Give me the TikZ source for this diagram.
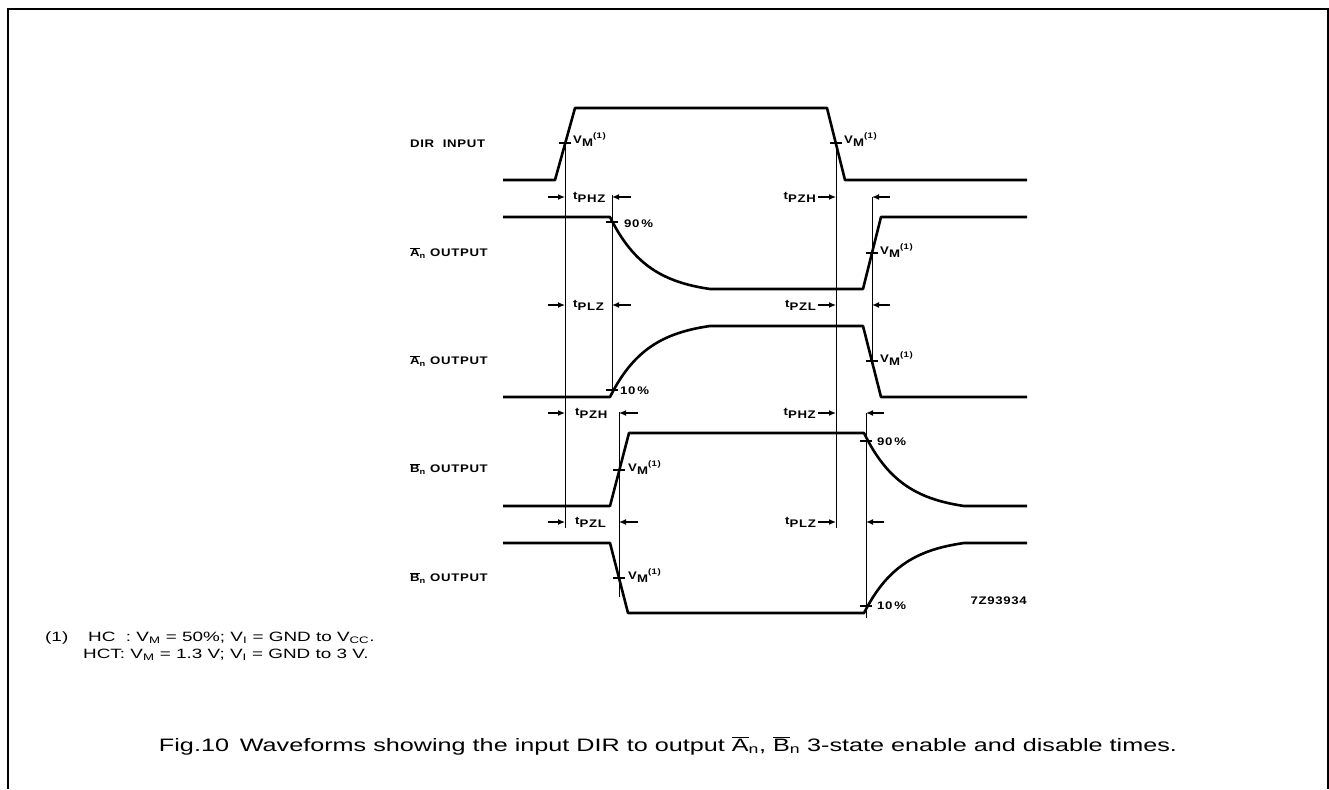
\documentclass[tikz,border=0pt]{standalone}
\usepackage{fontspec}
\setmainfont{Liberation Sans}
\newfontfamily\wavefont[LetterSpace=6, FakeStretch=1.2]{Liberation Sans}
\newfontfamily\capfont[FakeStretch=1.4]{Liberation Sans}
\usetikzlibrary{arrows.meta, positioning}

\newcommand{\tsub}[1]{t\raisebox{-3pt}{#1}}
\newcommand{\vmref}{V\raisebox{-3pt}{M}\raisebox{5pt}{\fontsize{8}{8}\selectfont(1)}}
\newcommand{\barA}{$\overline{\mbox{A}}$}
\newcommand{\barB}{$\overline{\mbox{B}}$}

\begin{document}
\begin{tikzpicture}[
    x=1pt, y=-1pt,
    wave/.style={line width=2.6pt, line join=round},
    guide/.style={line width=1pt},
    tickmark/.style={line width=1.6pt},
    dimarrow/.style={-{Latex[length=7pt,width=6pt]}, line width=1.3pt},
    sig/.style={font=\wavefont\fontsize{11}{13}\selectfont\bfseries, anchor=west, inner sep=0pt},
    tlbl/.style={font=\wavefont\fontsize{11}{13}\selectfont\bfseries, inner sep=0pt},
    note/.style={font=\capfont\fontsize{13.5}{16}\selectfont, anchor=west, inner sep=0pt},
]
\useasboundingbox (0,0) rectangle (1329,789);

%% Rahmen
\draw[line width=1.8pt] (8,789) -- (8,9) -- (1328,9) -- (1328,789);

%% Signalnamen
\node[sig] (lDIR) at (410,144) {DIR\ \ INPUT};
\node[sig] (lA1) at (410,253) {\barA\textsubscript{n} OUTPUT};
\node[sig] (lA2) at (410,361) {\barA\textsubscript{n} OUTPUT};
\node[sig] (lB1) at (410,469) {\barB\textsubscript{n} OUTPUT};
\node[sig] (lB2) at (410,578) {\barB\textsubscript{n} OUTPUT};

%% Kurven
\draw[wave] (503,180) -- (555,180) -- (575,108) -- (827,108) -- (845,180) -- (1027,180);
\draw[wave] (503,217) -- (610,217)
    -- plot[domain=0:100, samples=45] ({610+\x},{217+72*(1-exp(-\x/38))/0.928})
    -- (863,289) -- (881,217) -- (1027,217);
\draw[wave] (503,397) -- (610,397)
    -- plot[domain=0:100, samples=45] ({610+\x},{397-71*(1-exp(-\x/38))/0.928})
    -- (863,326) -- (881,397) -- (1027,397);
\draw[wave] (503,506) -- (610,506) -- (629,433) -- (864,433)
    -- plot[domain=0:100, samples=45] ({864+\x},{433+73*(1-exp(-\x/38))/0.928})
    -- (1027,506);
\draw[wave] (503,543) -- (610,543) -- (628,613) -- (864,613)
    -- plot[domain=0:100, samples=45] ({864+\x},{613-70*(1-exp(-\x/38))/0.928})
    -- (1027,543);

%% Hilfslinien
\coordinate (g1) at (565,143);
\coordinate (g2) at (836,143);
\coordinate (g3) at (612,195);
\coordinate (g4) at (872,197);
\coordinate (g5) at (619,412);
\coordinate (g6) at (866,413);
\draw[guide] (g1) -- (565,528);
\draw[guide] (g2) -- (836,528);
\draw[guide] (g3) -- (612,395);
\draw[guide] (g4) -- (872,362);
\draw[guide] (g5) -- (619,597);
\draw[guide] (g6) -- (866,618);

%% Messpunkte
\draw[tickmark] (559,143) -- (571,143);
\draw[tickmark] (830,143) -- (842,143);
\draw[tickmark] (606,222) -- (618,222);
\draw[tickmark] (866,253) -- (878,253);
\draw[tickmark] (606,390) -- (618,390);
\draw[tickmark] (866,361) -- (878,361);
\draw[tickmark] (613,470) -- (625,470);
\draw[tickmark] (860,441) -- (872,441);
\draw[tickmark] (613,578) -- (625,578);
\draw[tickmark] (860,606) -- (872,606);

\node[sig] (v1) at (573,140) {\vmref};
\node[sig] (v2) at (844,140) {\vmref};
\node[sig] (p1) at (624,224) {90\,\%};
\node[sig] (v3) at (880,251) {\vmref};
\node[sig] (p2) at (620,391) {10\,\%};
\node[sig] (v4) at (880,359) {\vmref};
\node[sig] (v5) at (628,468) {\vmref};
\node[sig] (p3) at (877,442) {90\,\%};
\node[sig] (v6) at (628,576) {\vmref};
\node[sig] (p4) at (877,606) {10\,\%};

%% Zeiten
\node[tlbl, anchor=west] (tl1) at (573,197) {\tsub{PHZ}};
\node[tlbl, anchor=west] (tl2) at (573,305) {\tsub{PLZ}};
\node[tlbl, anchor=west] (tl3) at (575,413) {\tsub{PZH}};
\node[tlbl, anchor=west] (tl4) at (575,522) {\tsub{PZL}};
\node[tlbl, anchor=east] (tr1) at (816,197) {\tsub{PZH}};
\node[tlbl, anchor=east] (tr2) at (816,305) {\tsub{PZL}};
\node[tlbl, anchor=east] (tr3) at (816,413) {\tsub{PHZ}};
\node[tlbl, anchor=east] (tr4) at (816,522) {\tsub{PLZ}};

\draw[dimarrow] ([xshift=-17pt]tl1.west -| g1) -- (tl1.west -| g1);
\draw[dimarrow] ([xshift=-17pt]tl2.west -| g1) -- (tl2.west -| g1);
\draw[dimarrow] ([xshift=-17pt]tl3.west -| g1) -- (tl3.west -| g1);
\draw[dimarrow] ([xshift=-17pt]tl4.west -| g1) -- (tl4.west -| g1);
\draw[dimarrow] ([xshift=19pt]tl1.east -| g3) -- (tl1.east -| g3);
\draw[dimarrow] ([xshift=19pt]tl2.east -| g3) -- (tl2.east -| g3);
\draw[dimarrow] ([xshift=19pt]tl3.east -| g5) -- (tl3.east -| g5);
\draw[dimarrow] ([xshift=19pt]tl4.east -| g5) -- (tl4.east -| g5);
\draw[dimarrow] ([xshift=2pt]tr1.east) -- (tr1.east -| g2);
\draw[dimarrow] ([xshift=2pt]tr2.east) -- (tr2.east -| g2);
\draw[dimarrow] ([xshift=2pt]tr3.east) -- (tr3.east -| g2);
\draw[dimarrow] ([xshift=2pt]tr4.east) -- (tr4.east -| g2);
\draw[dimarrow] ([xshift=18pt]tr1.east -| g4) -- (tr1.east -| g4);
\draw[dimarrow] ([xshift=18pt]tr2.east -| g4) -- (tr2.east -| g4);
\draw[dimarrow] ([xshift=18pt]tr3.east -| g6) -- (tr3.east -| g6);
\draw[dimarrow] ([xshift=18pt]tr4.east -| g6) -- (tr4.east -| g6);

\node[sig, anchor=east] (code) at (1027,601) {7Z93934};

%% Fussnote und Bildunterschrift
\node[note] (fn1) at (45,638) {(1)};
\node[note] (fn2) at (88,638) {HC\ \ : V\textsubscript{M} = 50\%; V\textsubscript{I} = GND to V\textsubscript{CC}.};
\node[note] (fn3) at (83,655) {HCT: V\textsubscript{M} = 1.3 V; V\textsubscript{I} = GND to 3 V.};
\node[font=\capfont\fontsize{18}{22}\selectfont, inner sep=0pt] (cap) at (668,746)
    {Fig.10\hspace{0.6em}Waveforms showing the input DIR to output \barA\textsubscript{n}, \barB\textsubscript{n} 3-state enable and disable times.};

\end{tikzpicture}
\end{document}
